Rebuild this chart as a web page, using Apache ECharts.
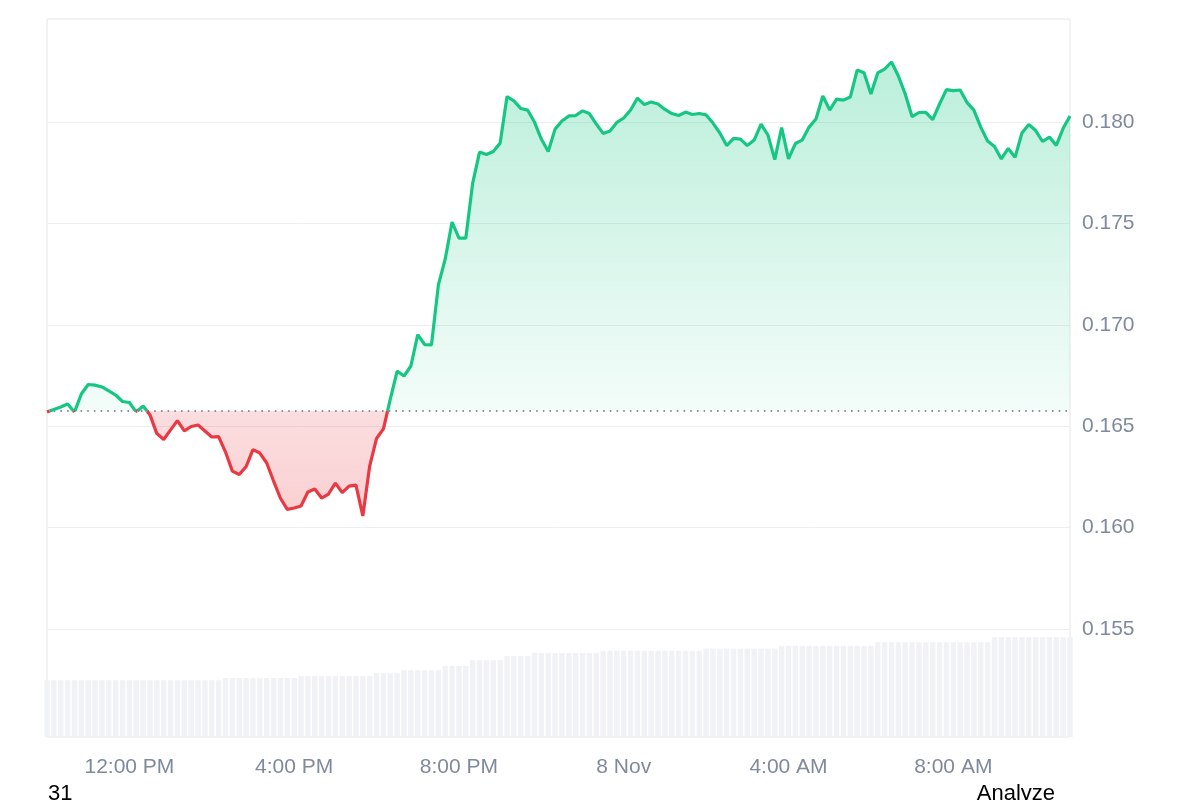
<!DOCTYPE html>
<html>
<head>
<meta charset="utf-8">
<script src="https://cdn.jsdelivr.net/npm/echarts@6/dist/echarts.min.js"></script>
<style>
html,body{margin:0;padding:0;background:#fff;}
#chart{width:1200px;height:800px;}
</style>
</head>
<body>
<div id="chart"></div>
<script>
// ---- data (10-minute steps starting 7 Nov 10:00 AM) ----
const stepMinutes = 10;
const prices = [
0.16570,0.16583,0.16595,0.16610,0.16570,0.16659,0.16706,0.16703,0.16694,0.16674,
0.16654,0.16622,0.16617,0.16570,0.16600,0.16556,0.16464,0.16435,0.16482,0.16528,
0.16477,0.16499,0.16506,0.16477,0.16447,0.16449,0.16373,0.16279,0.16262,0.16301,
0.16385,0.16368,0.16319,0.16230,0.16145,0.16090,0.16097,0.16107,0.16176,0.16191,
0.16146,0.16166,0.16220,0.16173,0.16205,0.16210,0.16058,0.16304,0.16440,0.16487,
0.16634,0.16772,0.16748,0.16797,0.16952,0.16903,0.16901,0.17196,0.17325,0.17507,
0.17428,0.17428,0.17699,0.17852,0.17840,0.17855,0.17896,0.18126,0.18104,0.18067,
0.18059,0.18000,0.17916,0.17855,0.17965,0.18005,0.18030,0.18032,0.18055,0.18042,
0.17990,0.17944,0.17956,0.17998,0.18020,0.18059,0.18118,0.18086,0.18099,0.18089,
0.18062,0.18042,0.18032,0.18049,0.18037,0.18042,0.18035,0.17995,0.17946,0.17884,
0.17919,0.17916,0.17884,0.17911,0.17990,0.17936,0.17815,0.17973,0.17818,0.17894,
0.17911,0.17975,0.18015,0.18128,0.18059,0.18113,0.18108,0.18123,0.18256,0.18243,
0.18138,0.18242,0.18261,0.18296,0.18227,0.18138,0.18026,0.18047,0.18048,0.18012,
0.18089,0.18160,0.18155,0.18158,0.18096,0.18059,0.17975,0.17906,0.17879,0.17818,
0.17870,0.17826,0.17946,0.17988,0.17958,0.17904,0.17926,0.17885,0.17969,0.18030
];
const volumes = [
7.9,7.9,7.9,7.9,7.9,7.9,7.9,7.9,7.9,7.9,
7.9,7.9,7.9,7.9,7.9,7.9,7.9,7.9,7.9,7.9,
7.9,7.9,7.9,7.9,7.9,7.9,8.2,8.2,8.2,8.2,
8.2,8.2,8.2,8.2,8.2,8.2,8.2,8.5,8.5,8.5,
8.5,8.5,8.5,8.5,8.5,8.5,8.5,8.5,8.9,8.9,
8.9,8.9,9.3,9.3,9.3,9.3,9.3,9.3,9.9,9.9,
9.9,9.9,10.7,10.7,10.7,10.7,10.7,11.3,11.3,11.3,
11.3,11.7,11.7,11.7,11.7,11.7,11.7,11.7,11.7,11.7,
11.7,12.0,12.0,12.0,12.0,12.0,12.0,12.0,12.0,12.0,
12.0,12.0,12.0,12.0,12.0,12.0,12.3,12.3,12.3,12.3,
12.3,12.3,12.3,12.3,12.3,12.3,12.3,12.7,12.7,12.7,
12.7,12.7,12.7,12.7,12.7,12.7,12.7,12.7,12.7,12.7,
12.7,13.2,13.2,13.2,13.2,13.2,13.2,13.2,13.2,13.2,
13.2,13.2,13.2,13.2,13.2,13.2,13.2,13.2,13.9,13.9,
13.9,13.9,13.9,13.9,13.9,13.9,13.9,13.9,13.9,13.9
];
const basePrice = 0.16575;
const xTickMinutes = [120, 360, 600, 840, 1080, 1320];
const xTickLabels = ['12:00 PM', '4:00 PM', '8:00 PM', '8 Nov', '4:00 AM', '8:00 AM'];
const yTicks = [0.155, 0.160, 0.165, 0.170, 0.175, 0.180];
const yMin = 0.14968, yMax = 0.18508;

// ---- build series data ----
const times = prices.map((_, i) => i * stepMinutes);
const pts = [];
for (let i = 0; i < prices.length; i++) {
  pts.push([times[i], prices[i]]);
  if (i < prices.length - 1) {
    const a = prices[i] - basePrice, b = prices[i + 1] - basePrice;
    if (a * b < 0) {
      const t = times[i] + (basePrice - prices[i]) / (prices[i + 1] - prices[i]) * (times[i + 1] - times[i]);
      pts.push([t, basePrice]);
    }
  }
}
const upData = pts.map(p => p[1] >= basePrice ? p : [p[0], '-']);
const downData = pts.map(p => p[1] <= basePrice ? p : [p[0], '-']);
const volData = volumes.map((v, i) => [times[i], v]);
const lastT = times[times.length - 1];

const labelColor = '#808a9d';
const font = 'Liberation Sans, Arial, sans-serif';

const chart = echarts.init(document.getElementById('chart'), null, {renderer: 'canvas'});
chart.setOption({
  animation: false,
  backgroundColor: '#ffffff',
  grid: {left: 47, right: 130, top: 19, bottom: 63, show: true, borderColor: '#e6e6e6', borderWidth: 1, backgroundColor: 'transparent'},
  xAxis: {
    type: 'value', min: 0, max: lastT,
    axisLine: {show: false}, axisTick: {show: false, customValues: xTickMinutes},
    splitLine: {show: false},
    axisLabel: {
      customValues: xTickMinutes,
      formatter: v => xTickLabels[xTickMinutes.indexOf(v)] || '',
      color: labelColor, fontSize: 21, fontFamily: font, margin: 20
    }
  },
  yAxis: [{
    type: 'value', position: 'right', min: yMin, max: yMax,
    axisLine: {show: false},
    axisTick: {show: false, customValues: yTicks},
    splitLine: {show: true, lineStyle: {color: '#eeeeee', width: 1}},
    axisLabel: {
      customValues: yTicks,
      formatter: v => v.toFixed(3),
      color: labelColor, fontSize: 21, fontFamily: font, margin: 12
    }
  }, {
    type: 'value', min: 0, max: 100, show: false
  }],
  series: [{
    type: 'bar', yAxisIndex: 1, data: volData, barWidth: 5.4, silent: true, clip: true,
    itemStyle: {color: '#f0f2f5'}, z: 1
  }, {
    type: 'line', data: upData, showSymbol: false, symbol: 'none', connectNulls: false,
    lineStyle: {color: '#16c784', width: 3.2}, z: 3,
    areaStyle: {origin: basePrice, color: new echarts.graphic.LinearGradient(0, 0, 0, 1, [
      {offset: 0, color: 'rgba(22,199,132,0.42)'},
      {offset: 1, color: 'rgba(22,199,132,0.07)'}
    ])}
  }, {
    type: 'line', data: downData, showSymbol: false, symbol: 'none', connectNulls: false,
    lineStyle: {color: '#ea3943', width: 3.2}, z: 3,
    areaStyle: {origin: basePrice, color: new echarts.graphic.LinearGradient(0, 0, 0, 1, [
      {offset: 0, color: 'rgba(234,57,67,0.24)'},
      {offset: 1, color: 'rgba(234,57,67,0.34)'}
    ])}
  }, {
    type: 'line', data: [[0, basePrice], [lastT, basePrice]], showSymbol: false, symbol: 'none',
    silent: true, z: 2,
    lineStyle: {color: '#6f7383', width: 1.6, type: [1.6, 5.1]}
  }],
  graphic: [{
    type: 'text', left: 48, top: 783,
    style: {text: '31', fill: '#000', font: '22px Liberation Sans, Arial, sans-serif'}
  }, {
    type: 'text', right: 145, top: 783,
    style: {text: 'Analyze', fill: '#000', font: '22px Liberation Sans, Arial, sans-serif'}
  }]
});
</script>
</body>
</html>
